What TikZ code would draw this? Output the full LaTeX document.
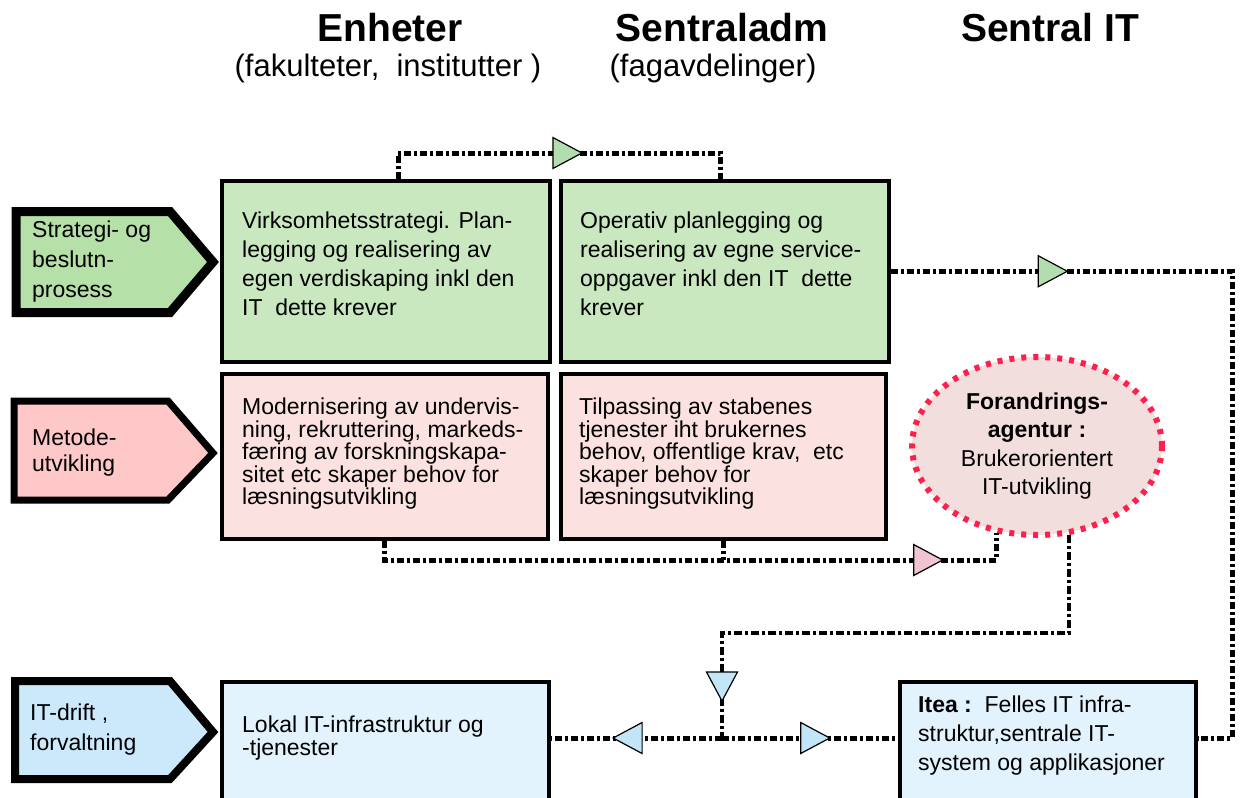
\documentclass[tikz,border=0pt]{standalone}
\usepackage{fontspec}
\setmainfont{Liberation Sans}
\usetikzlibrary{shapes.geometric,calc}
\definecolor{gbox}{HTML}{C9E8C0}
\definecolor{gpent}{HTML}{B5E0A8}
\definecolor{pbox}{HTML}{FCE1E1}
\definecolor{ppent}{HTML}{FFC8C8}
\definecolor{bbox}{HTML}{E2F3FD}
\definecolor{bpent}{HTML}{CCE9FB}
\definecolor{efill}{HTML}{F3DEDE}
\definecolor{ered}{HTML}{FF1F4B}
\definecolor{garrow}{HTML}{B3DDAE}
\definecolor{parrow}{HTML}{F0C4D0}
\definecolor{barrow}{HTML}{C2E6F8}
\begin{document}
\begin{tikzpicture}[x=1pt,y=-1pt,
  box/.style={draw=black, line width=3.5, rectangle, inner sep=0, anchor=north west},
  txt/.style={anchor=north west, inner sep=0, align=left, font=\fontsize{23}{29}\selectfont},
  ptxt/.style={anchor=north west, inner sep=0, align=left, font=\fontsize{23}{22.5}\selectfont},
  ltxt/.style={anchor=west, inner sep=0, align=left, font=\fontsize{23}{30}\selectfont},
  pent/.style={draw=black, line join=miter},
  head/.style={inner sep=0, font=\fontsize{39}{39}\selectfont\bfseries},
  sub/.style={inner sep=0, font=\fontsize{31}{31}\selectfont},
  conn/.style={draw=black, line width=5, dash pattern=on 7 off 3 on 3 off 3},
  connb/.style={draw=black, line width=4, dash pattern=on 8 off 3 on 3 off 3},
  tri/.style={isosceles triangle, isosceles triangle stretches, inner sep=0,
    minimum width=31, minimum height=29, draw=black, line width=1.2,
    sloped, allow upside down, solid},
]
\useasboundingbox (0,0) rectangle (1240,798);
\clip (0,0) rectangle (1240,798);

% headers
\node[head] (h1) at (390,28) {Enheter};
\node[sub] (s1) at (388,68) {(fakulteter,\ \ institutter )};
\node[head] (h2) at (722,28) {Sentraladm};
\node[sub] (s2) at (713,68) {(fagavdelinger)};
\node[head] (h3) at (1050,28) {Sentral IT};

% left labels
\draw[pent, line width=9, fill=gpent] (16,211.5) -- (170,211.5) -- (213,262) -- (170,312.5) -- (16,312.5) -- cycle;
\node[ltxt] (l1lab) at (32,262) {Strategi- og\\beslutn-\\prosess};
\draw[pent, line width=7, fill=ppent] (14,401) -- (168,401) -- (213,453) -- (168,500) -- (14,500) -- cycle;
\node[ltxt, font=\fontsize{23}{26}\selectfont] (l2lab) at (32,453) {Metode-\\utvikling};
\draw[pent, line width=8, fill=bpent] (15,681) -- (170,681) -- (213,732) -- (170,779) -- (15,779) -- cycle;
\node[ltxt] (l3lab) at (30,730) {IT-drift ,\\forvaltning};

% boxes
\node[box, fill=gbox, minimum width=328, minimum height=181] (g1) at (220,179) {};
\node[box, fill=gbox, minimum width=328, minimum height=181] (g2) at (559,179) {};
\node[box, fill=pbox, minimum width=326, minimum height=165] (p1) at (220,372) {};
\node[box, fill=pbox, minimum width=325, minimum height=165] (p2) at (559,372) {};
\node[box, fill=bbox, minimum width=327, minimum height=140] (b1) at (220,680) {};
\node[box, fill=bbox, minimum width=296, minimum height=140] (itea) at (898,680) {};

\node[txt] (g1t) at (242,212) {Virksomhetsstrategi. Plan-\\legging og realisering av\\egen verdiskaping inkl den\\IT\ \ dette krever};
\node[txt] (g2t) at (580,212) {Operativ planlegging og\\realisering av egne service-\\oppgaver inkl den IT\ \ dette\\krever};
\node[ptxt] (p1t) at (242,398) {Modernisering av undervis-\\ning, rekruttering, markeds-\\færing av forskningskapa-\\sitet etc skaper behov for\\læsningsutvikling};
\node[ptxt] (p2t) at (579,398) {Tilpassing av stabenes\\tjenester iht brukernes\\behov, offentlige krav,\ \ etc\\skaper behov for\\læsningsutvikling};
\node[txt, font=\fontsize{23}{20}\selectfont] (b1t) at (242,716) {Lokal IT-infrastruktur og\\-tjenester};
\node[txt] (iteat) at (918,696) {\textbf{Itea :}\ \ Felles IT infra-\\struktur,sentrale IT-\\system og applikasjoner};

% ellipse
\node[ellipse, draw=ered, line width=6, dash pattern=on 5 off 7, fill=efill,
  minimum width=250, minimum height=178, align=center, inner sep=0,
  font=\fontsize{23}{28.5}\selectfont] (fa) at (1037,446)
  {\textbf{Forandrings-}\\\textbf{agentur :}\\Brukerorientert\\IT-utvikling};

% connectors
\coordinate (tA) at (398,153);
\coordinate (tB) at (720,153);
\draw[conn] (g1.north -| tA) -- (tA) -- node[tri, fill=garrow, pos=0.51] (a1) {} (tB) -- (g2.north -| tB);

\coordinate (rX) at (1232,0);
\coordinate (rY) at (0,738);
\draw[conn] (g2.east) -- node[tri, fill=garrow, pos=0.46] (a2) {} (g2.east -| rX) -- (rX |- rY) -- (itea.east |- rY);

\coordinate (pY) at (0,560);
\draw[conn] (p1.south) -- (p1.south |- pY) -- node[tri, fill=parrow, pos=0.88] (a3) {} (fa.245 |- pY) -- (fa.245);
\draw[conn] (p2.south) -- (p2.south |- pY);

\coordinate (bY) at (0,633);
\coordinate (jn) at (722,738);
\draw[connb] (fa.290) -- (fa.290 |- bY) -- (jn |- bY) -- node[tri, fill=barrow, pos=0.46] (a4) {} (jn);
\draw[conn] (jn) -- node[tri, fill=barrow, pos=0.52] (a5) {} (b1.east |- jn);
\draw[conn] (jn) -- node[tri, fill=barrow, pos=0.5] (a6) {} (itea.west |- jn);
\end{tikzpicture}
\end{document}
